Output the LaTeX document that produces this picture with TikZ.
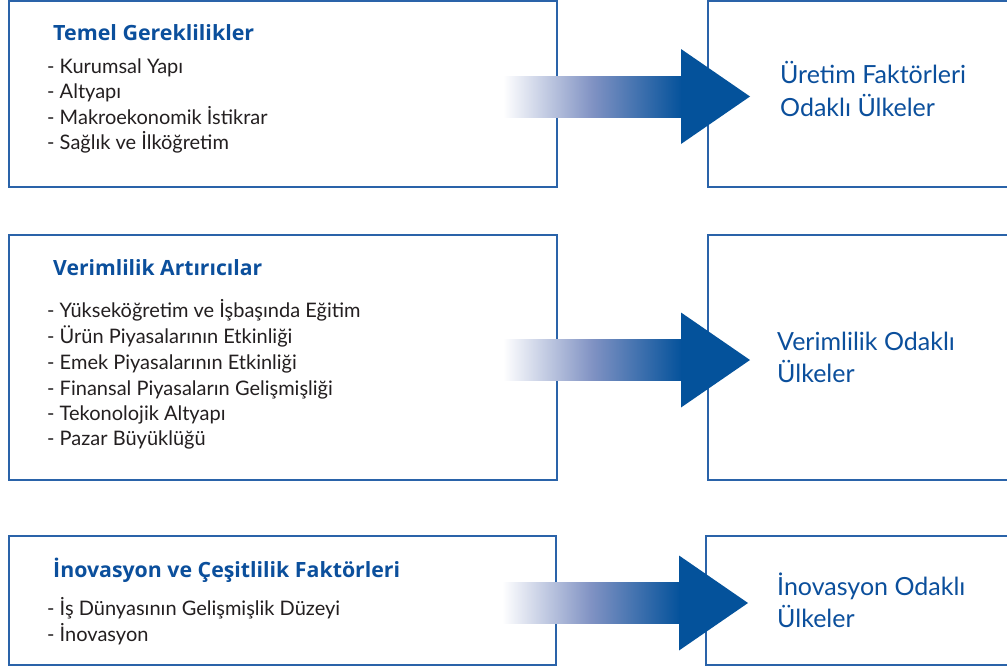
\documentclass[tikz,border=0pt]{standalone}
\usepackage{fontspec}
\usepackage{graphicx}
\setmainfont{Lato}
\newfontfamily\titlefont{Open Sans}
\usetikzlibrary{calc}
\definecolor{boxblue}{HTML}{2A63A9}
\definecolor{arrblue}{HTML}{04529B}
\definecolor{midblue}{HTML}{8092C3}
\definecolor{titleblue}{HTML}{0B4F9C}
\definecolor{itemgray}{HTML}{231F20}
\tikzset{
  panel/.style={draw=boxblue, line width=2pt, fill=white, inner sep=0pt, outer sep=0pt, anchor=north west},
  ttl/.style={anchor=base west, inner sep=0pt, text=titleblue, font=\titlefont\fontsize{21}{25}\selectfont\bfseries},
  item/.style={anchor=base west, inner sep=0pt, text=itemgray, font=\fontsize{20}{24}\selectfont},
  result/.style={anchor=base west, inner sep=0pt, text=titleblue, font=\fontsize{25}{30}\selectfont},
  shaft/.style={left color=white, right color=arrblue, middle color=midblue},
  head/.style={fill=arrblue, draw=none}
}
\newcommand\fitw[2]{\resizebox{#1}{\height}{#2}}
\newcommand\fatarrow[2]{%
  \shade[shaft] let \p1=(#1.east), \p2=(#2.west) in
    (\x1-54pt,\y1-23pt) rectangle (\x2-26pt,\y1+18pt);
  \fill[head] let \p1=(#1.east), \p2=(#2.west) in
    (\x2-27pt,\y1+45pt) -- (\x2+42pt,\y1-2.5pt) -- (\x2-27pt,\y1-50pt) -- cycle;
}
\begin{document}
\begin{tikzpicture}[x=1pt,y=-1pt]
\useasboundingbox (0,0) rectangle (1007,667);
\clip (0,0) rectangle (1007,667);
\fill[white] (0,0) rectangle (1007,667);
% boxes
\node[panel, minimum width=548pt, minimum height=186pt] (L1) at (9,1) {};
\node[panel, minimum width=320pt, minimum height=186pt] (R1) at (708,1) {};
\node[panel, minimum width=548pt, minimum height=245pt] (L2) at (9,235) {};
\node[panel, minimum width=320pt, minimum height=245pt] (R2) at (708,235) {};
\node[panel, minimum width=547pt, minimum height=129pt] (L3) at (9,536) {};
\node[panel, minimum width=320pt, minimum height=129pt] (R3) at (706,536) {};
% arrows
\fatarrow{L1}{R1}
\fatarrow{L2}{R2}
\fatarrow{L3}{R3}
% box 1
\node[ttl] (t1) at (53,40) {\fitw{201pt}{Temel Gereklilikler}};
\node[item] (a1) at (47,73) {- Kurumsal Yapı};
\node[item] (a2) at (47,98) {- Altyapı};
\node[item] (a3) at (47,124) {- Makroekonomik İstikrar};
\node[item] (a4) at (47,149) {- Sağlık ve İlköğretim};
\node[result] (r1a) at (780,83) {Üretim Faktörleri};
\node[result] (r1b) at (780,116) {Odaklı Ülkeler};
% box 2
\node[ttl] (t2) at (53,275) {\fitw{209pt}{Verimlilik Artırıcılar}};
\node[item] (b1) at (47,317) {- Yükseköğretim ve İşbaşında Eğitim};
\node[item] (b2) at (47,343) {- Ürün Piyasalarının Etkinliği};
\node[item] (b3) at (47,369) {- Emek Piyasalarının Etkinliği};
\node[item] (b4) at (47,395) {- Finansal Piyasaların Gelişmişliği};
\node[item] (b5) at (47,420) {- Tekonolojik Altyapı};
\node[item] (b6) at (47,445) {- Pazar Büyüklüğü};
\node[result] (r2a) at (777,350) {Verimlilik Odaklı};
\node[result] (r2b) at (777,382) {Ülkeler};
% box 3
\node[ttl] (t3) at (53,577) {\fitw{347pt}{İnovasyon ve Çeşitlilik Faktörleri}};
\node[item] (c1) at (47,615) {- İş Dünyasının Gelişmişlik Düzeyi};
\node[item] (c2) at (47,641) {- İnovasyon};
\node[result] (r3a) at (777,595) {İnovasyon Odaklı};
\node[result] (r3b) at (777,627) {Ülkeler};
\end{tikzpicture}
\end{document}
